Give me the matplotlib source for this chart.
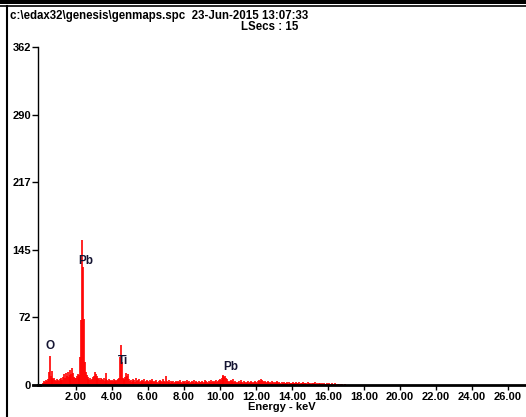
import numpy as np
import matplotlib
matplotlib.use("Agg")
import matplotlib.pyplot as plt
from matplotlib.lines import Line2D

plt.rcParams['font.family'] = ['Liberation Sans', 'DejaVu Sans']
plt.rcParams['font.weight'] = 'bold'

header = "c:\\edax32\\genesis\\genmaps.spc  23-Jun-2015 13:07:33"
lsecs = "LSecs : 15"

# channel energies, 0.05 keV apart, starting at 0.20 keV
e_start = 0.20
e_step = 0.05
counts = [
    # 0.20 - 0.95
    2, 4, 3, 5, 4, 6, 14, 31, 10, 15, 8, 6, 7, 5, 4, 6,
    # 1.00 - 1.95
    5, 4, 6, 5, 7, 5, 9, 12, 8, 13, 10, 14, 9, 16, 11, 12, 18, 13, 9, 7,
    # 2.00 - 2.95
    8, 10, 12, 9, 11, 30, 70, 155, 126, 71, 25, 14, 11, 9, 6, 5, 7, 5, 6, 9,
    # 3.00 - 3.95
    10, 14, 12, 8, 10, 6, 7, 5, 8, 6, 5, 7, 4, 6, 13, 5, 4, 6, 5, 4,
    # 4.00 - 4.95
    5, 4, 6, 3, 5, 4, 5, 6, 8, 30, 43, 25, 7, 5, 6, 9, 13, 10, 12, 6,
    # 5.00 - 5.95
    4, 5, 3, 6, 4, 5, 3, 7, 4, 5, 6, 3, 4, 5, 3, 4, 6, 3, 4, 5,
    # 6.00 - 6.95
    4, 3, 5, 4, 3, 6, 4, 3, 4, 5, 3, 2, 4, 3, 5, 4, 3, 6, 4, 3,
    # 7.00 - 7.95
    10, 4, 3, 5, 3, 2, 4, 3, 4, 2, 3, 4, 3, 2, 4, 3, 5, 3, 2, 4,
    # 8.00 - 8.95
    3, 4, 2, 3, 5, 3, 4, 2, 3, 4, 3, 5, 2, 3, 4, 3, 2, 4, 3, 3,
    # 9.00 - 9.95
    4, 3, 2, 5, 3, 4, 3, 2, 4, 3, 5, 3, 4, 2, 3, 4, 5, 3, 4, 5,
    # 10.00 - 10.95
    6, 5, 8, 10, 11, 9, 10, 7, 6, 4, 3, 4, 5, 3, 4, 6, 3, 4, 3, 2,
    # 11.00 - 11.95
    3, 4, 2, 3, 5, 3, 2, 4, 3, 2, 3, 4, 2, 3, 2, 4, 3, 2, 3, 4,
    # 12.00 - 12.95
    3, 2, 4, 3, 5, 4, 6, 5, 4, 3, 4, 3, 2, 4, 3, 2, 3, 2, 4, 3,
    # 13.00 - 13.95
    2, 3, 2, 3, 4, 2, 3, 2, 1, 3, 2, 3, 2, 2, 3, 2, 1, 3, 2, 2,
    # 14.00 - 14.95
    2, 3, 2, 2, 1, 3, 2, 2, 3, 1, 2, 2, 3, 2, 1, 2, 2, 1, 3, 2,
    # 15.00 - 15.95
    2, 1, 2, 2, 1, 2, 3, 1, 2, 1, 2, 2, 1, 2, 1, 1, 2, 1, 1, 2,
    # 16.00 - 16.95
    1, 2, 1, 1, 2, 1, 0, 1, 2, 1, 0, 1, 1, 0, 1, 0, 1, 0, 0, 1,
]
energy = e_start + e_step * np.arange(len(counts))

peak_names = ["O", "Pb", "Ti", "Pb"]
peak_x = [0.57, 2.57, 4.63, 10.63]
peak_y = [42, 133, 26, 19]

y_ticks = [0, 72.4, 144.8, 217.2, 289.6, 362]
y_labels = ["0", "72", "145", "217", "290", "362"]
x_ticks = np.arange(2, 27, 2)
x_labels = ["%.2f" % v for v in x_ticks]

W, H = 526, 417
fig = plt.figure(figsize=(W / 100, H / 100), dpi=100)
ax = fig.add_axes([38 / W, 32 / H, (W - 38) / W, 338 / H])

ax.vlines(energy, 0, counts, color="#ff0000", lw=1.2)

for name, x, y in zip(peak_names, peak_x, peak_y):
    ax.text(x, y, name, ha="center", va="center", fontsize=8.5,
            color="#141432")

ax.set_xlim(-0.1, 27.0)
ax.set_ylim(0, 362)
ax.set_yticks(y_ticks)
ax.set_yticklabels(y_labels)
ax.set_xticks(x_ticks)
ax.set_xticklabels(x_labels)
ax.tick_params(axis="both", direction="out", labelsize=8, color="black")
ax.tick_params(axis="y", length=4, width=1, pad=1)
ax.tick_params(axis="x", length=3.5, width=1, pad=1.5)
ax.set_xlabel("Energy - keV", fontsize=8, fontweight="bold", labelpad=0)

for s in ["top", "right"]:
    ax.spines[s].set_visible(False)
ax.spines["left"].set_linewidth(1)
ax.spines["bottom"].set_linewidth(2)
# bottom line runs a little left of the y axis
ax.plot([-0.35, 0], [0, 0], color="black", lw=2, clip_on=False)

fig.text(10 / W, 1 - 16 / H, header, fontsize=8.3, ha="left", va="center")
fig.text(270 / W, 1 - 27 / H, lsecs, fontsize=8.3, ha="center", va="center")

# outer frame
fig.patches.append(plt.Rectangle((0, 1 - 4 / H), 1, 4 / H, transform=fig.transFigure,
                                 color="black", lw=0))
fig.lines.append(Line2D([0, 1], [1 - 6 / H, 1 - 6 / H], transform=fig.transFigure,
                        color="black", lw=1.2))
fig.lines.append(Line2D([7 / W, 7 / W], [0, 1 - 6 / H], transform=fig.transFigure,
                        color="black", lw=1.5))

fig.savefig("out.png", dpi=100)
